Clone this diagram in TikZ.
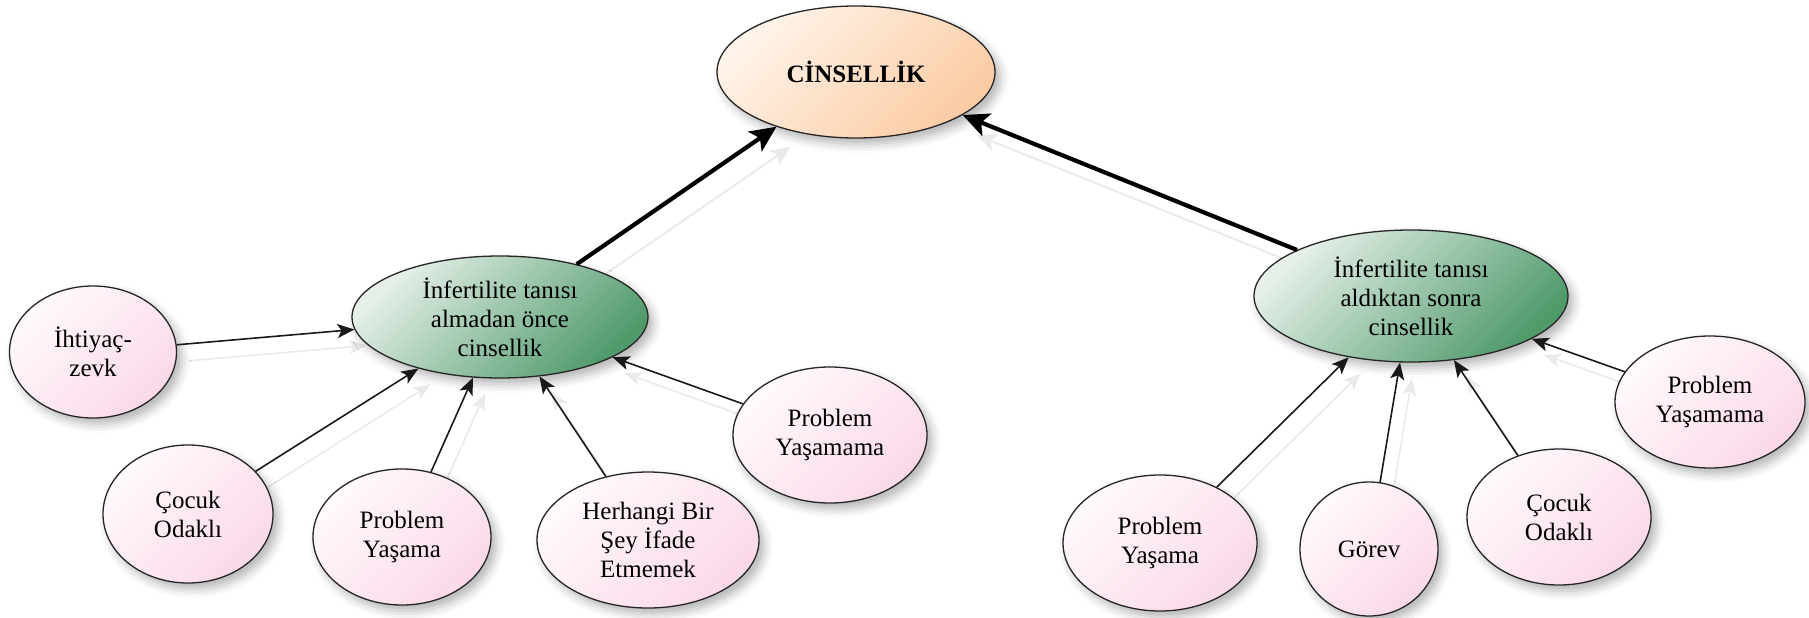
\documentclass[tikz,border=0pt]{standalone}
\usepackage{fontspec}
\setmainfont{Liberation Serif}
\usetikzlibrary{shapes.geometric,arrows.meta,shadows.blur}
\pgfdeclarelayer{back}
\pgfsetlayers{back,main}

\definecolor{pinkA}{HTML}{FFFAFC}
\definecolor{pinkB}{HTML}{FBD8E9}
\definecolor{greenA}{HTML}{E6F0E9}
\definecolor{greenB}{HTML}{4F9A6B}
\definecolor{orangeA}{HTML}{FFF4EA}
\definecolor{orangeB}{HTML}{FBCBA3}
\definecolor{ghost}{HTML}{EAEAEA}

\begin{document}
\begin{tikzpicture}[x=1pt,y=-1pt,
  bubble/.style={ellipse, draw=black!85, line width=1.3pt, inner sep=0pt,
    align=center, font=\fontsize{25}{29}\selectfont,
    blur shadow={shadow xshift=5pt, shadow yshift=-6pt,
      shadow blur radius=9pt, shadow opacity=30}},
  leaf/.style={bubble, top color=pinkA, bottom color=pinkB, shading angle=45},
  branch/.style={bubble, top color=greenA, bottom color=greenB, shading angle=45},
  root/.style={bubble, top color=orangeA, bottom color=orangeB, shading angle=45,
    font=\fontsize{25}{29}\selectfont\bfseries},
  link/.style={draw=black!90, line width=1.6pt,
    -{Stealth[length=17pt, width=14pt, inset=4pt]}},
  mainlink/.style={draw=black, line width=4.2pt,
    -{Stealth[length=26pt, width=24pt, inset=6pt]}},
  ghostlink/.style={draw=ghost, line width=1.6pt,
    -{Stealth[length=17pt, width=14pt, inset=4pt]},
    transform canvas={shift={(12pt,-16pt)}}},
  ghostmain/.style={draw=ghost, line width=2pt,
    -{Stealth[length=20pt, width=18pt, inset=5pt]},
    transform canvas={shift={(14pt,-20pt)}}}]

\useasboundingbox (0,0) rectangle (1809,618);

% central concept and the two periods
\node[root, minimum width=278pt, minimum height=132pt] (top) at (856,72) {CİNSELLİK};
\node[branch, minimum width=296pt, minimum height=122pt] (before) at (500,317)
  {İnfertilite tanısı\\almadan önce\\cinsellik};
\node[branch, minimum width=314pt, minimum height=132pt] (after) at (1411,296)
  {İnfertilite tanısı\\aldıktan sonra\\cinsellik};

% themes before the diagnosis
\node[leaf, minimum width=167pt, minimum height=132pt] (b1) at (93,352) {İhtiyaç-\\zevk};
\node[leaf, minimum width=170pt, minimum height=138pt] (b2) at (188,514) {Çocuk\\Odaklı};
\node[leaf, minimum width=178pt, minimum height=136pt] (b3) at (402,537) {Problem\\Yaşama};
\node[leaf, minimum width=222pt, minimum height=136pt] (b4) at (648,540)
  {Herhangi Bir\\Şey İfade\\Etmemek};
\node[leaf, minimum width=194pt, minimum height=136pt] (b5) at (830,435) {Problem\\Yaşamama};

% themes after the diagnosis
\node[leaf, minimum width=194pt, minimum height=136pt] (a1) at (1160,543) {Problem\\Yaşama};
\node[leaf, minimum width=138pt, minimum height=134pt] (a2) at (1369,549) {Görev};
\node[leaf, minimum width=184pt, minimum height=136pt] (a3) at (1559,517) {Çocuk\\Odaklı};
\node[leaf, minimum width=190pt, minimum height=132pt] (a4) at (1710,402) {Problem\\Yaşamama};

% faint reflections of the connectors
\begin{pgfonlayer}{back}
  \foreach \s/\t in {b1/before,b2/before,b3/before,b4/before,b5/before,
                     a1/after,a2/after,a3/after,a4/after}
    \draw[ghostlink] (\s) -- (\t);
  \draw[ghostmain] (before) -- (top);
  \draw[ghostmain] (after) -- (top);
\end{pgfonlayer}

% connectors
\foreach \s/\t in {b1/before,b2/before,b3/before,b4/before,b5/before,
                   a1/after,a2/after,a3/after,a4/after}
  \draw[link] (\s) -- (\t);
\draw[mainlink] (before) -- (top);
\draw[mainlink] (after) -- (top);
\end{tikzpicture}
\end{document}
